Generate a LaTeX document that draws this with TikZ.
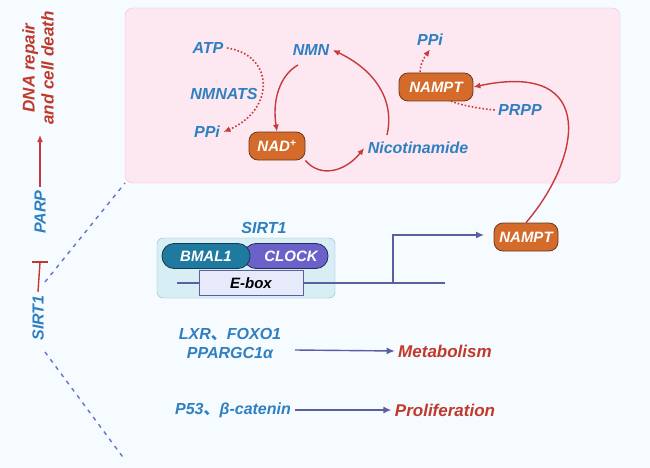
\documentclass[tikz,border=0pt]{standalone}
\usepackage{fontspec}
\setmainfont{Liberation Sans}
\newfontfamily\cjkf{Noto Sans CJK SC}
\usetikzlibrary{arrows.meta}
\begin{document}
\begin{tikzpicture}[x=1pt,y=-1pt,
  bt/.style={text=tblue,font=\bfseries\itshape\fontsize{16}{19}\selectfont},
  rt/.style={text=tred,font=\bfseries\itshape\fontsize{17}{19}\selectfont},
  pill/.style={draw=pillb,fill=orng,rounded corners=9pt,text=white,minimum height=28pt,font=\bfseries\itshape\fontsize{15}{18}\selectfont,line width=0.8pt},
  ra/.style={draw=ared,line width=1.4pt,-{Latex[length=7pt,width=6pt]}},
  rd/.style={draw=ared,line width=1.6pt,dotted,-{Latex[length=7pt,width=6pt]}},
  na/.style={draw=navy,line width=1.4pt,-{Latex[length=8pt,width=7pt]}}]
\definecolor{tblue}{HTML}{2F7FC1}\definecolor{tred}{HTML}{C0392B}
\definecolor{orng}{HTML}{D46B2A}\definecolor{pillb}{HTML}{6B3A1E}
\definecolor{ared}{HTML}{C8393B}\definecolor{navy}{HTML}{5B5FA0}
\useasboundingbox[fill={rgb,255:red,245;green,251;blue,255}] (0,0) rectangle (650,468);
\draw[fill={rgb,255:red,253;green,232;blue,242},draw={rgb,255:red,243;green,188;blue,212},rounded corners=8pt] (125,8) rectangle (620,183);
\node[bt] (atp) at (208,48) {ATP};
\node[bt] (nmnats) at (224,94) {NMNATS};
\node[bt] (ppi1) at (207,132) {PPi};
\node[bt] (nmn) at (311,50) {NMN};
\node[pill,minimum width=56pt] (nad) at (277,146) {NAD\textsuperscript{+}};
\node[bt] (nic) at (418,148) {Nicotinamide};
\node[bt] (ppi2) at (430,40) {PPi};
\node[bt] (prpp) at (520,110) {PRPP};
\draw[rd] (prpp.west) .. controls (440,105) and (405,85) .. (ppi2.south);
\node[pill,minimum width=74pt] (nampt1) at (436,87) {NAMPT};
\draw[rd] (atp.east) .. controls (275,55) and (275,110) .. (ppi1.east);
\draw[ra] (298,65) .. controls (280,75) and (272,100) .. (nad.north);
\draw[ra] (nad.south east) .. controls (320,178) and (345,172) .. (nic.west);
\draw[ra] (387,135) .. controls (395,100) and (375,70) .. (nmn.east);
\node[pill,minimum width=64pt] (nampt2) at (526,237) {NAMPT};
\draw[ra] (nampt2.north) .. controls (580,160) and (600,60) .. (nampt1.east);
\node[bt] (sirt) at (264,228) {SIRT1};
\draw[fill={rgb,255:red,216;green,238;blue,245},draw={rgb,255:red,143;green,181;blue,197},rounded corners=6pt] (157,238) rectangle (335,298);
\coordinate (l0) at (177,283); \coordinate (l1) at (445,283);
\coordinate (tb) at (393,283); \coordinate (tt) at (393,235); \coordinate (te) at (484,235);
\draw[navy,line width=1.4pt] (l0) -- (l1);
\node[draw=navy,fill={rgb,255:red,230;green,234;blue,250},minimum width=104pt,minimum height=25pt,line width=1pt,font=\bfseries\itshape\fontsize{15}{18}\selectfont] (ebox) at (251,283) {E-box};
\node[pill,fill={rgb,255:red,106;green,98;blue,201},draw={rgb,255:red,40;green,40;blue,90},minimum width=84pt,minimum height=25pt,rounded corners=12pt] (clock) at (286,256) {\hspace{10pt}CLOCK};
\node[pill,fill={rgb,255:red,31;green,122;blue,159},draw={rgb,255:red,20;green,60;blue,80},minimum width=88pt,minimum height=25pt,rounded corners=12pt] (bmal) at (206,256) {BMAL1};
\draw[na] (tb) -- (tt) -- (te);
\node[bt,align=center] (lxr) at (230,343) {LXR{\cjkf 、}FOXO1\\PPARGC1α};
\node[rt] (meta) at (445,351) {Metabolism};
\draw[na] (295,350) -- (meta.west);
\node[bt] (p53) at (233,410) {P53{\cjkf 、}β-catenin};
\node[rt] (prol) at (445,410) {Proliferation};
\draw[na] (295,410) -- (prol.west);
\node[bt,rotate=90] (s1) at (38,318) {SIRT1};
\node[bt,rotate=90] (parp) at (40,212) {PARP};
\node[rt,rotate=90,align=center] (dna) at (38,68) {DNA repair\\and cell death};
\draw[tred,line width=1.4pt] (s1.east) -- (40,262);
\draw[tred,line width=1.6pt] (32,262) -- (48,262);
\draw[ra] (parp.east) -- (40,135);
\draw[gray!60!blue!80,line width=1.4pt,dash pattern=on 4pt off 5pt] (45,282) -- (125,183);
\draw[gray!60!blue!80,line width=1.4pt,dash pattern=on 4pt off 5pt] (45,352) -- (125,460);
\end{tikzpicture}
\end{document}
